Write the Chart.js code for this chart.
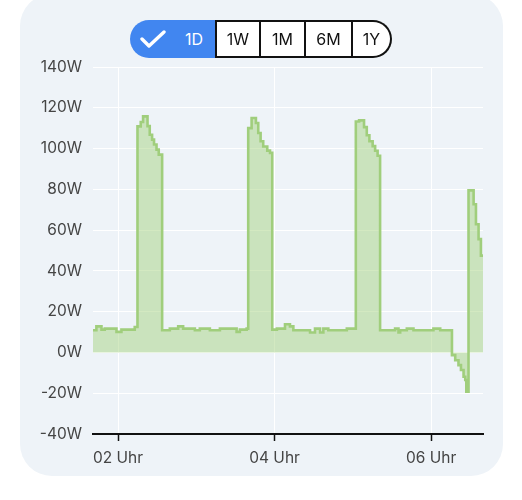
<!DOCTYPE html>
<html>
<head>
<meta charset="utf-8">
<script src="https://cdn.jsdelivr.net/npm/chart.js@4/dist/chart.umd.min.js"></script>
<style>
  body { margin: 0; background: #fff; font-family: Inter, sans-serif; }
  #card { position: absolute; left: 20px; top: -6px; width: 483px; height: 482px; background: #eef3f8; border-radius: 32px; }
  #wrap { position: absolute; left: 0; top: 0; width: 522px; height: 500px; }
  .seg { position: absolute; top: 20px; height: 38px; box-sizing: border-box; display: flex; align-items: center; justify-content: center; font-size: 16px; color: #111; background: #fff; border: 2px solid #111; border-left: none; }
  #d1 { left: 130px; width: 85px; background: #4186f0; color: #fff; border: none; border-radius: 19px 0 0 19px; justify-content: flex-start; }
  #d1 svg { margin-left: 10px; margin-right: 19px; }
</style>
</head>
<body>
<div id="card"></div>
<div id="wrap"><canvas id="grafico" width="522" height="500"></canvas></div>
<div class="seg" id="d1"><svg width="26" height="18" viewBox="0 0 26 18"><path d="M2 9 L9 16 L24 2" fill="none" stroke="#fff" stroke-width="3.4" stroke-linecap="round" stroke-linejoin="round"/></svg>1D</div>
<div class="seg" style="left:215px;width:46px;border-left:2px solid #111;">1W</div>
<div class="seg" style="left:261px;width:45px;">1M</div>
<div class="seg" style="left:306px;width:47px;">6M</div>
<div class="seg" style="left:353px;width:39px;border-radius:0 19px 19px 0;">1Y</div>
<script>
// minutes since midnight where the reading changes, and the reading in W
var minuti = [100.8, 103.4, 107.3, 109.8, 118.8, 122.6, 132.8,
  134.9, 137.4, 139.2, 142.6, 144.3, 146.1, 147.6, 149.5, 151.2,
  153.8, 159.7, 166.1, 169.9, 178.9, 182.7, 190.4, 198.1, 210.9, 213.4, 218.6,
  219.8, 222.4, 225.7, 227.5, 229.3, 231.3, 234.4, 236.5,
  238.2, 241.8, 248.0, 251.8, 254.4, 267.2, 271.0, 274.9, 277.4, 281.2, 295.4,
  302.3, 304.8, 308.6, 310.7, 312.7, 315.2, 317.1, 319.0,
  320.9, 332.4, 335.0, 336.3, 341.4, 346.5, 361.8, 367.0,
  376.0, 378.5, 381.0, 382.9, 384.9, 386.2, 387.0,
  388.7, 392.6, 394.4, 396.4, 398.2, 399.8];
var watt = [10.9, 12.8, 11.2, 11.7, 10.1, 11.2, 12.5,
  110.9, 113, 115.8, 111, 106.8, 104.4, 102, 99.5, 97,
  10.9, 11.7, 12.8, 11.7, 10.9, 11.7, 10.9, 11.7, 10.1, 11.2, 11.7,
  110, 115, 112.5, 107.6, 103.6, 101, 99, 97.9,
  11.2, 11.7, 13.8, 12.8, 10.9, 9.8, 11.7, 9.8, 11.7, 10.9, 11.7,
  113.3, 113.8, 110.5, 106.5, 103.6, 101.2, 98.9, 96.5,
  10.9, 11.7, 9.8, 10.9, 11.7, 10.9, 11.7, 10.9,
  -1.3, -3.8, -6.2, -8.6, -11.9, -13.5, -19.2,
  79.5, 72.7, 62.9, 55.6, 47.5, 47.5];

var tickMinuti = [120, 240, 360];
var tickLabels = ['02 Uhr', '04 Uhr', '06 Uhr'];

var punti = [];
for (var i = 0; i < minuti.length; i++) {
  punti.push({x: minuti[i], y: watt[i]});
}

var testo = '#454545';
var chart = new Chart(document.getElementById('grafico'), {
  type: 'line',
  data: {
    datasets: [{
      data: punti,
      stepped: true,
      borderColor: 'rgb(160,206,124)',
      borderWidth: 2.6,
      backgroundColor: 'rgba(162,208,126,0.48)',
      fill: 'origin',
      pointRadius: 0
    }]
  },
  options: {
    responsive: false,
    animation: false,
    layout: { padding: { left: 0, right: 39, top: 67, bottom: 26 } },
    plugins: { legend: { display: false }, tooltip: { enabled: false } },
    scales: {
      x: {
        type: 'linear',
        min: 100.8,
        max: 399.8,
        afterBuildTicks: function(scale){
          scale.ticks = tickMinuti.map(function(v){ return {value: v}; });
        },
        afterFit: function(scale){ scale.height = 40; },
        ticks: {
          padding: 8,
          color: testo,
          font: { family: 'Inter', size: 15.5 },
          maxRotation: 0,
          callback: function(value){ return tickLabels[tickMinuti.indexOf(value)]; }
        },
        grid: { color: '#ffffff', lineWidth: 1, tickColor: '#111', tickLength: 7, tickWidth: 1.5 },
        border: { color: '#111', width: 2 }
      },
      y: {
        min: -40,
        max: 140,
        afterFit: function(scale){ scale.width = 93; },
        ticks: {
          stepSize: 20,
          padding: 11,
          color: testo,
          font: { family: 'Inter', size: 15.5 },
          callback: function(value){ return value + 'W'; }
        },
        grid: { color: '#ffffff', lineWidth: 1, drawTicks: false },
        border: { display: false }
      }
    }
  }
});
</script>
</body>
</html>
